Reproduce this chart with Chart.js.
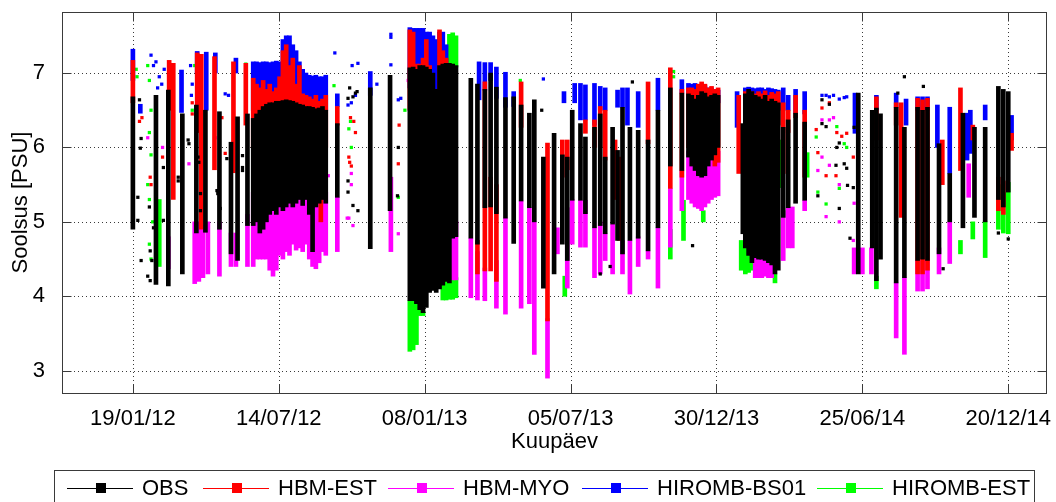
<!DOCTYPE html>
<html>
<head>
<meta charset="utf-8">
<title>Soolsus</title>
<script src="https://cdn.jsdelivr.net/npm/chart.js@4.4.1/dist/chart.umd.min.js"></script>
<style>
  html, body { margin: 0; padding: 0; background: #ffffff; }
  canvas { display: block; }
</style>
</head>
<body>
<canvas id="chart" width="1056" height="502"></canvas>
<script>
// Time axis: days counted from 19/01/2012.
const xTickDays = [0, 177, 354, 531, 708, 885, 1062];
const xTickLabels = ['19/01/12', '14/07/12', '08/01/13', '05/07/13', '30/12/13', '25/06/14', '20/12/14'];
const yTickValues = [3, 4, 5, 6, 7];

const seriesNames = ['OBS', 'HBM-EST', 'HBM-MYO', 'HIROMB-BS01', 'HIROMB-EST'];

// OBS: salinity range (low..high) per measurement day
const obsDay = [0,28,43,60,77,88,105,119,127,139,
  146,150,154,158,162,166,170,174,178,182,186,190,194,198,202,206,210,214,218,222,226,230,234,
  248,288,312,
  336,340,344,348,352,356,360,364,368,372,376,380,384,388,392,
  410,418,427,434,441,452,462,471,481,487,498,511,521,527,533,543,549,560,567,573,582,588,594,603,613,625,637,652,666,
  674,678,682,686,690,694,698,702,706,710,
  740,743,747,751,755,759,763,767,771,775,779,783,
  789,795,804,815,880,897,902,907,926,936,952,958,964,978,991,1007,1021,1034,1050,1056,1062];
const obsLow = [4.90,4.16,4.14,4.30,4.85,4.86,4.90,4.57,4.48,4.95,
  4.95,5.00,4.85,4.90,5.00,5.10,5.15,5.10,5.20,5.15,5.20,5.25,5.20,5.25,5.30,5.22,5.30,5.10,4.60,5.20,5.25,5.30,5.25,
  5.33,4.64,5.15,
  3.94,3.94,3.90,3.82,3.78,3.85,4.05,4.08,4.05,4.10,4.15,4.20,4.18,4.78,4.80,
  4.78,4.70,5.19,5.20,5.11,5.05,4.71,5.28,5.19,5.00,4.11,4.30,4.70,4.48,5.29,5.29,5.11,4.92,4.95,4.84,4.97,4.75,4.57,4.75,4.78,4.61,4.92,5.75,5.69,
  5.87,5.75,5.69,5.62,5.60,5.62,5.75,5.83,5.90,6.00,
  4.84,4.65,4.55,4.45,4.52,4.50,4.50,4.48,4.45,4.42,4.30,4.35,
  5.06,5.19,5.25,5.29,4.30,4.65,4.21,4.50,4.18,4.25,4.48,4.50,4.48,4.57,5.00,4.92,5.06,5.00,5.30,5.20,5.40];
const obsHigh = [6.68,6.70,6.77,6.45,6.57,6.50,6.48,6.07,6.41,6.45,
  6.39,6.45,6.50,6.55,6.58,6.60,6.60,6.62,6.62,6.63,6.64,6.63,6.62,6.60,6.58,6.57,6.55,6.55,6.54,6.52,6.53,6.55,6.50,
  6.32,6.80,6.97,
  7.07,7.08,7.05,7.10,7.10,7.08,7.05,7.00,6.78,7.10,7.12,7.13,7.13,7.12,7.10,
  6.93,6.85,6.78,7.00,6.81,6.67,6.68,6.57,6.46,6.64,5.87,6.19,5.90,5.87,6.50,6.32,6.14,6.27,6.45,5.87,6.27,5.96,6.54,6.27,6.23,6.10,6.50,6.80,6.73,
  6.72,6.70,6.65,6.70,6.75,6.73,6.68,6.70,6.72,6.70,
  6.32,6.72,6.78,6.75,6.70,6.68,6.65,6.70,6.62,6.65,6.62,6.60,
  6.27,6.37,6.46,6.34,6.73,6.50,6.53,6.45,6.54,6.27,6.54,6.50,6.54,6.05,5.65,6.46,6.27,6.27,6.82,6.78,6.75];
const obsPtDay = [8,10,9,6,6,10,20,21,23,25,18,21,37,37,55,55,67,68,79,80,82,82,102,103,106,114,133,133,133,
  263,267,272,261,270,261,261,267,273,322,321,496,606,567,579,679,
  836,845,836,841,854,857,853,863,866,831,867,874,857,870,875,936,928,959,983,1050,1062];
const obsPtVal = [6.64,6.12,5.99,5.33,5.02,4.48,5.20,4.61,4.48,4.92,4.27,4.21,5.73,5.02,5.60,5.55,6.10,6.05,5.87,5.80,5.38,5.15,5.42,5.38,5.18,5.85,5.73,5.69,5.89,
  6.80,6.68,6.75,6.66,6.73,5.55,5.40,5.22,5.15,6.00,5.35,6.50,6.88,4.30,4.40,4.68,
  6.64,6.58,6.32,6.28,6.00,6.06,5.76,5.78,5.72,5.35,5.49,5.46,5.18,4.78,6.27,6.95,6.73,6.82,4.37,4.85,4.77];

// HBM-EST
const hbmEstDay = [0,44,49,78,83,99,122,137,
  146,150,154,158,162,166,170,174,178,182,186,190,194,198,202,206,210,214,218,222,226,230,234,228,
  248,336,340,344,348,352,356,360,372,376,380,
  418,427,434,441,471,503,521,527,549,560,567,573,585,590,625,652,666,
  674,678,682,686,690,694,698,702,706,710,
  735,743,747,751,755,759,763,767,771,775,779,783,
  789,795,804,815,902,926,932,952,958,964,982,1004,1019,1050,1056,1066];
const hbmEstLow = [6.60,6.50,5.30,6.20,4.90,5.70,5.66,6.30,
  6.00,6.00,6.00,6.00,6.00,6.00,6.00,6.00,6.00,6.00,6.00,6.00,6.00,6.00,6.00,6.00,6.00,6.00,6.00,6.00,6.00,6.00,6.00,5.00,
  6.30,6.50,6.50,6.50,6.50,6.50,6.50,6.50,6.50,6.50,6.50,
  4.30,4.34,4.34,4.20,6.27,3.67,5.60,5.70,6.19,6.00,6.00,5.83,5.30,4.75,6.05,5.45,5.60,
  6.00,6.00,6.00,6.00,6.00,6.00,6.00,6.00,5.75,5.80,
  5.65,6.30,6.30,6.30,6.30,6.30,6.30,6.30,6.30,6.30,6.30,6.30,
  5.65,6.20,6.40,5.60,6.10,6.30,5.06,4.30,4.30,4.35,5.50,5.69,6.10,5.15,5.10,5.96];
const hbmEstHigh = [7.17,7.17,7.13,7.27,7.25,7.22,7.15,7.13,
  6.93,6.85,6.80,6.90,6.78,6.85,6.75,6.80,6.95,7.30,7.38,7.10,7.20,6.85,7.10,6.72,6.70,6.68,6.65,6.70,6.62,6.65,6.70,5.30,
  6.55,7.58,7.55,7.12,7.12,7.20,7.45,7.10,7.58,7.30,7.20,
  4.75,6.88,5.60,5.50,6.88,6.06,6.10,6.10,6.37,6.37,6.55,6.50,6.10,5.87,6.88,7.07,6.78,
  6.80,6.80,6.78,6.85,6.88,6.85,6.80,6.82,6.78,6.80,
  6.70,6.75,6.77,6.75,6.72,6.75,6.72,6.76,6.70,6.74,6.72,6.75,
  6.60,6.50,6.70,6.50,6.68,6.60,6.60,6.66,6.64,6.66,6.10,6.80,6.30,5.60,5.55,6.19];
const hbmEstPtDay = [8,11,21,22,36,72,72,108,112,264,268,262,263,265,270,323,322,836,829,831,841,853,854,866,874,845,860];
const hbmEstPtVal = [6.35,6.40,5.60,5.50,5.87,6.60,6.45,6.40,5.92,6.40,6.35,5.87,5.80,5.75,6.20,6.30,5.78,6.53,6.24,5.93,5.62,5.62,6.20,6.19,5.87,6.60,6.15];

// HBM-MYO
const hbmMyoDay = [43,75,80,85,91,105,119,125,139,
  146,150,154,158,162,166,170,174,178,182,186,190,194,198,202,206,210,214,218,222,226,230,234,
  248,313,388,392,
  410,418,427,441,452,471,481,487,503,515,527,533,543,549,560,567,573,582,594,603,613,625,637,652,666,
  674,678,682,686,690,694,698,702,706,710,
  755,759,763,767,771,775,
  789,795,800,815,875,885,896,926,936,952,958,964,978,991,1014];
const hbmMyoLow = [4.37,4.17,4.20,4.25,4.30,4.27,4.40,4.40,4.40,
  4.40,4.50,4.50,4.50,4.50,4.35,4.27,4.35,4.55,4.50,4.60,4.55,4.70,4.62,4.65,4.60,4.70,4.50,4.40,4.37,4.45,4.60,4.55,
  4.60,4.60,4.22,4.22,
  3.98,3.95,3.94,3.84,3.76,3.84,3.90,3.22,2.90,4.57,4.11,4.70,4.66,4.66,4.25,4.30,4.48,4.30,4.30,4.03,4.40,4.50,4.11,4.66,5.15,
  5.30,5.25,5.20,5.18,5.15,5.20,5.25,5.30,5.33,5.35,
  4.25,4.25,4.25,4.27,4.25,4.25,
  4.48,4.65,4.65,5.15,4.30,4.30,4.30,3.44,3.22,4.07,4.07,4.10,4.30,4.44,5.33];
const hbmMyoHigh = [4.80,5.00,5.00,4.95,5.00,5.00,4.85,4.85,5.10,
  5.40,5.40,5.40,5.40,5.40,5.40,5.40,5.40,5.40,5.40,5.40,5.40,5.40,5.40,5.40,5.40,5.40,5.40,5.40,5.40,5.40,5.40,5.40,
  5.33,5.60,5.00,5.00,
  4.78,4.60,4.38,4.48,5.05,5.28,5.19,5.00,3.70,4.92,5.19,5.30,5.29,5.29,4.92,5.00,4.84,4.97,4.75,4.75,4.80,4.61,4.92,5.45,5.69,
  5.95,5.95,5.95,5.95,5.95,5.95,5.95,5.95,5.95,5.95,
  4.60,4.60,4.60,4.60,4.60,4.60,
  5.15,5.19,5.20,5.29,4.65,4.65,4.65,4.18,4.25,4.48,4.48,4.48,4.65,5.00,5.78];
const hbmMyoPtDay = [0,0,18,36,60,68,100,237,260,265,265,262,267,334,322,836,845,850,836,845,857,831,841,857,875,874];
const hbmMyoPtVal = [6.00,4.95,6.13,6.00,5.72,5.78,6.13,5.62,5.05,5.65,5.50,5.05,4.95,6.90,4.84,6.37,6.37,6.40,5.87,5.76,5.50,5.69,5.07,5.00,5.25,4.75];

// HIROMB-BS01
const bs01Day = [0,9,59,78,89,100,125,
  146,150,154,158,162,166,170,174,178,182,186,190,194,198,202,206,210,214,218,222,226,230,234,
  248,288,
  336,340,344,348,352,356,360,364,368,372,376,380,
  420,427,434,441,452,462,523,536,543,549,560,567,573,588,594,600,613,637,666,
  674,678,682,686,690,694,698,702,706,710,
  733,743,747,751,755,759,763,767,771,775,779,783,
  789,795,804,815,876,902,926,938,952,958,964,976,991,1012,1016,1034,1066];
const bs01Low = [6.90,6.46,6.47,7.00,6.50,7.00,7.00,
  6.50,6.50,6.50,6.50,6.50,6.50,6.50,6.50,6.50,6.50,6.50,6.50,6.50,6.50,6.50,6.50,6.50,6.50,6.50,6.50,6.50,6.50,6.50,
  6.55,6.70,
  6.80,6.80,6.80,6.80,6.80,6.80,6.80,6.80,6.70,6.80,6.80,6.80,
  6.64,6.77,6.90,6.66,6.54,6.55,6.60,6.60,6.37,6.37,6.30,6.50,6.50,6.54,6.54,6.30,6.27,6.50,6.73,
  6.60,6.60,6.60,6.60,6.60,6.60,6.60,6.60,6.60,6.60,
  6.27,6.50,6.50,6.50,6.50,6.50,6.50,6.50,6.50,6.50,6.50,6.50,
  6.50,6.50,6.46,6.45,6.19,6.50,6.54,6.30,6.50,6.50,6.50,6.00,5.65,5.83,5.92,6.37,6.10];
const bs01High = [7.32,6.58,7.04,7.29,7.28,7.27,7.20,
  7.15,7.15,7.14,7.15,7.15,7.14,7.15,7.16,7.15,7.45,7.50,7.50,7.38,7.30,7.15,7.05,7.00,6.97,6.96,6.97,6.95,6.95,6.97,
  6.72,7.02,
  7.61,7.60,7.60,7.60,7.60,7.55,7.55,7.50,7.45,7.55,7.55,7.38,
  7.15,7.14,7.14,7.08,7.01,6.75,6.75,6.86,6.86,6.84,6.86,6.82,6.80,6.77,6.80,6.80,6.75,6.93,6.91,
  6.86,6.85,6.86,6.84,6.82,6.83,6.80,6.80,6.78,6.77,
  6.75,6.80,6.81,6.80,6.79,6.80,6.80,6.78,6.80,6.79,6.78,6.77,
  6.80,6.70,6.78,6.75,6.73,6.70,6.73,6.65,6.68,6.68,6.68,6.57,6.54,6.46,6.50,6.57,6.43];
const bs01PtDay = [22,25,28,32,35,30,38,70,72,71,112,116,245,266,261,265,270,273,296,313,313,313,322,325,498,836,841,845,866,863,857,850];
const bs01PtVal = [7.24,7.10,7.15,6.95,6.85,6.80,7.05,7.10,6.85,6.70,6.72,6.70,7.27,7.10,6.57,6.60,6.70,7.13,6.85,7.52,7.48,7.11,6.64,6.66,6.92,6.70,6.70,6.68,6.68,6.67,6.65,6.70];

// HIROMB-EST
const hiEstDay = [32,336,340,344,348,352,376,380,384,388,392,384,388,392,524,652,668,692,738,743,747,751,779,785,818,902,1004,1019,1034,1050,1056,1062];
const hiEstLow = [4.40,3.26,3.28,3.35,3.74,3.74,3.95,3.95,3.96,3.96,3.98,7.08,7.08,7.08,4.00,4.50,4.75,5.00,4.35,4.30,4.32,4.35,4.18,5.46,5.60,4.10,4.57,4.77,4.52,4.90,4.85,4.84];
const hiEstHigh = [5.30,3.94,3.94,3.90,3.84,3.80,4.20,4.22,4.25,4.25,4.25,7.52,7.54,7.50,4.27,4.90,5.29,5.15,4.75,4.70,4.65,4.60,4.30,6.10,5.93,4.27,4.75,5.00,5.00,5.50,5.40,5.53];
const hiEstPtDay = [4,5,18,20,22,20,22,18,20,24,20,22,72,75,137,244,262,264,265,322,330,470,656,656,829,831,841,854,857,863,866];
const hiEstPtVal = [7.05,6.95,7.10,6.90,6.50,6.20,5.90,5.50,5.30,5.00,4.70,4.50,6.50,7.10,7.12,6.83,6.25,6.35,6.00,5.33,6.50,6.90,7.02,6.95,6.14,5.40,5.24,6.28,5.45,6.05,6.00];

// ---- drawing ----
const FONT = '"Liberation Sans", Arial, Helvetica, sans-serif';
const seriesColors = ['#000000', '#ff0000', '#ff00ff', '#0000ff', '#00ff00'];
const frameColor = '#3a3a3a';

const layers = [
  { days: obsDay, low: obsLow, high: obsHigh, pDays: obsPtDay, pVals: obsPtVal },
  { days: hbmEstDay, low: hbmEstLow, high: hbmEstHigh, pDays: hbmEstPtDay, pVals: hbmEstPtVal },
  { days: hbmMyoDay, low: hbmMyoLow, high: hbmMyoHigh, pDays: hbmMyoPtDay, pVals: hbmMyoPtVal },
  { days: bs01Day, low: bs01Low, high: bs01High, pDays: bs01PtDay, pVals: bs01PtVal },
  { days: hiEstDay, low: hiEstLow, high: hiEstHigh, pDays: hiEstPtDay, pVals: hiEstPtVal }
];

const datasets = [];
layers.forEach((s, k) => {
  datasets.push({
    type: 'bar',
    label: seriesNames[k],
    data: s.days.map((d, i) => ({ x: d, y: [s.low[i], s.high[i]] })),
    backgroundColor: seriesColors[k],
    borderWidth: 0,
    barThickness: 4,
    grouped: false,
    order: 2 * k
  });
  datasets.push({
    type: 'scatter',
    label: seriesNames[k],
    data: s.pDays.map((d, i) => ({ x: d, y: s.pVals[i] })),
    pointStyle: 'rect',
    pointRadius: 2.3,
    backgroundColor: seriesColors[k],
    borderWidth: 0,
    order: 2 * k + 1
  });
});

// dotted grid, framed box with inward ticks, and the legend strip
const axesDecor = {
  id: 'axesDecor',
  beforeDatasetsDraw(chart) {
    const { ctx, chartArea: a, scales: { x, y } } = chart;
    ctx.save();
    ctx.strokeStyle = frameColor;
    ctx.lineWidth = 1;
    ctx.setLineDash([1, 3]);
    ctx.beginPath();
    xTickDays.forEach(v => {
      const px = Math.round(x.getPixelForValue(v)) + 0.5;
      ctx.moveTo(px, a.top); ctx.lineTo(px, a.bottom);
    });
    yTickValues.forEach(v => {
      const py = Math.round(y.getPixelForValue(v)) + 0.5;
      ctx.moveTo(a.left, py); ctx.lineTo(a.right, py);
    });
    ctx.stroke();
    ctx.restore();
  },
  afterDatasetsDraw(chart) {
    const { ctx, chartArea: a, scales: { x, y } } = chart;
    const L = Math.round(a.left) + 0.5, R = Math.round(a.right) - 0.5;
    const T = Math.round(a.top) + 0.5, B = Math.round(a.bottom) + 0.5;
    const tick = 9;
    ctx.save();
    ctx.strokeStyle = frameColor;
    ctx.lineWidth = 1;
    ctx.setLineDash([]);
    ctx.strokeRect(L, T, R - L, B - T);
    ctx.beginPath();
    xTickDays.forEach(v => {
      const px = Math.round(x.getPixelForValue(v)) + 0.5;
      ctx.moveTo(px, B); ctx.lineTo(px, B - tick);
      ctx.moveTo(px, T); ctx.lineTo(px, T + tick);
    });
    yTickValues.forEach(v => {
      const py = Math.round(y.getPixelForValue(v)) + 0.5;
      ctx.moveTo(L, py); ctx.lineTo(L + tick, py);
      ctx.moveTo(R, py); ctx.lineTo(R - tick, py);
    });
    ctx.stroke();
    ctx.restore();
  },
  afterDraw(chart) {
    const { ctx } = chart;
    const lineStart = [67, 203, 388, 582, 817];
    const cy = 488;
    ctx.save();
    ctx.fillStyle = '#ffffff';
    ctx.fillRect(55, 471, 980, 40);
    ctx.strokeStyle = frameColor;
    ctx.lineWidth = 1;
    ctx.strokeRect(54.5, 470.5, 980, 40);
    ctx.font = '22px ' + FONT;
    ctx.textBaseline = 'middle';
    ctx.textAlign = 'left';
    seriesNames.forEach((name, i) => {
      const x0 = lineStart[i];
      ctx.strokeStyle = seriesColors[i];
      ctx.beginPath();
      ctx.moveTo(x0, cy + 0.5); ctx.lineTo(x0 + 66, cy + 0.5);
      ctx.stroke();
      ctx.fillStyle = seriesColors[i];
      ctx.fillRect(x0 + 29, cy - 5, 10, 10);
      ctx.fillStyle = '#000000';
      ctx.fillText(name, x0 + 75, cy + 1);
    });
    ctx.restore();
  }
};

Chart.defaults.font.family = FONT;

new Chart(document.getElementById('chart'), {
  type: 'bar',
  data: { datasets },
  options: {
    responsive: false,
    animation: false,
    devicePixelRatio: 1,
    events: [],
    layout: { padding: { left: 0, top: 12, right: 9, bottom: 47 } },
    plugins: { legend: { display: false }, tooltip: { enabled: false } },
    scales: {
      x: {
        type: 'linear',
        min: -86,
        max: 1109,
        offset: false,
        grid: { display: false },
        border: { display: false },
        afterBuildTicks: s => { s.ticks = xTickDays.map(v => ({ value: v })); },
        ticks: {
          autoSkip: false,
          maxRotation: 0,
          padding: 5,
          color: '#000000',
          font: { size: 22 },
          callback: (v, i) => xTickLabels[i]
        },
        title: { display: true, text: 'Kuupäev', color: '#000000', font: { size: 22 }, padding: { top: 0, bottom: 0 } },
        afterFit: s => { s.height = 62; s.paddingLeft = 0; s.paddingRight = 0; }
      },
      y: {
        min: 2.7,
        max: 7.82,
        grid: { display: false },
        border: { display: false },
        afterBuildTicks: s => { s.ticks = yTickValues.map(v => ({ value: v })); },
        ticks: { padding: 9, color: '#000000', font: { size: 22 }, callback: v => String(v) },
        title: { display: true, text: 'Soolsus [PSU]', color: '#000000', font: { size: 22 }, padding: { top: 8, bottom: 0 } },
        afterFit: s => { s.width = 62; s.paddingTop = 0; s.paddingBottom = 0; }
      }
    }
  },
  plugins: [axesDecor]
});
</script>
</body>
</html>
